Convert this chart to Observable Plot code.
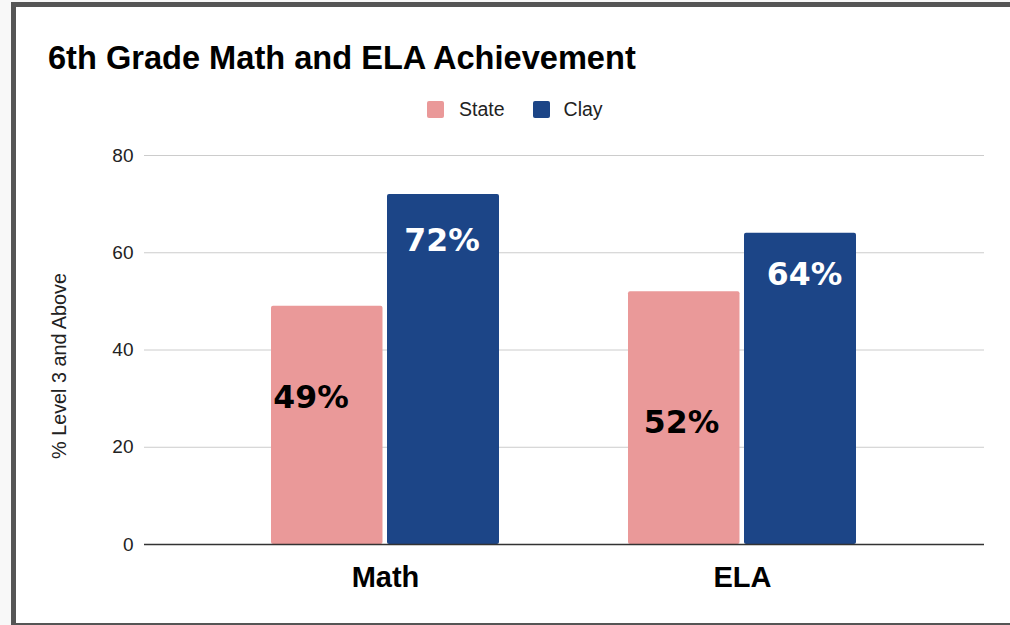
<!DOCTYPE html>
<html>
<head>
<meta charset="utf-8">
<script src="https://cdn.jsdelivr.net/npm/d3@7"></script>
<script src="https://cdn.jsdelivr.net/npm/@observablehq/plot@0.6"></script>
<style>
  html, body { margin: 0; padding: 0; width: 1010px; height: 625px; overflow: hidden; background: #f8f8f8; font-family: "Liberation Sans", Arial, sans-serif; }
  #frame { position: absolute; left: 11px; top: 2px; width: 999px; height: 623px; box-sizing: border-box;
    border-left: 5px solid #555; border-top: 5px solid #555; border-bottom: 2px solid #555; background: #fff; }
  #title { position: absolute; left: 48px; top: 42px; font-size: 32.6px; line-height: 32px; font-weight: bold; color: #000; white-space: nowrap; }
  #legend { position: absolute; left: 427px; top: 100px; display: flex; align-items: center; font-size: 19.5px; color: #222; height: 19px; }
  .sw { width: 17px; height: 17px; border-radius: 2px; display: inline-block; }
  #chart { position: absolute; left: 0; top: 130px; }
  #chart svg [aria-label^="x-axis"] text { font-size: 29px; font-weight: bold; fill: #000; }
</style>
</head>
<body>
<div id="frame"></div>
<div id="title"></div>
<div id="legend"></div>
<div id="chart"></div>
<script>
// ---- data ----
const titleText = "6th Grade Math and ELA Achievement";
const yTitle = "% Level 3 and Above";
const subjects = ["Math", "ELA"];
const series = ["State", "Clay"];
const stateValues = [49, 52];
const clayValues = [72, 64];
const yTicks = [0, 20, 40, 60, 80];
const seriesColors = ["#ea9999", "#1c4587"];
const labelColors = ["#000000", "#ffffff"];

// ---- build table ----
const rows = subjects.flatMap((s, i) => [
  {subject: s, series: "State", value: stateValues[i]},
  {subject: s, series: "Clay", value: clayValues[i]}
]);

document.getElementById("title").textContent = titleText;
const legend = document.getElementById("legend");
series.forEach((s, i) => {
  const sw = document.createElement("span");
  sw.className = "sw";
  sw.style.background = seriesColors[i];
  sw.style.marginRight = i === 0 ? "15px" : "14px";
  const t = document.createElement("span");
  t.textContent = s;
  if (i === 0) t.style.marginRight = "28px";
  legend.appendChild(sw);
  legend.appendChild(t);
});

// label placement tweaks (style, not data): [dx from band centre, dy from bar top]
const nudge = {
  "Math|State": [-74.5, 92],
  "Math|Clay": [56.5, 47],
  "ELA|State": [-61, 131],
  "ELA|Clay": [62, 42]
};

const labelMarks = rows.map(d => Plot.text([d], {
  x: "subject",
  y: "value",
  text: r => `${r.value}%`,
  dx: nudge[`${d.subject}|${d.series}`][0],
  dy: nudge[`${d.subject}|${d.series}`][1],
  fill: labelColors[series.indexOf(d.series)],
  fontSize: 31.5,
  fontWeight: "bold",
  fontFamily: "DejaVu Sans",
  textAnchor: "middle",
  lineAnchor: "middle"
}));

const chart = Plot.plot({
  width: 1010,
  height: 480,
  marginLeft: 144,
  marginRight: 26,
  marginTop: 25,
  marginBottom: 66,
  style: {fontFamily: "Liberation Sans, Arial, sans-serif", fontSize: "19px", color: "#222", background: "transparent", overflow: "visible"},
  x: {domain: subjects, paddingInner: 0.36, paddingOuter: 0.355, tickSize: 0, tickPadding: 22, label: null},
  y: {domain: [0, 80], ticks: yTicks, tickSize: 0, tickPadding: 11, label: null},
  color: {domain: series, range: seriesColors},
  marks: [
    Plot.ruleY(yTicks.filter(t => t > 0), {stroke: "#cccccc", strokeWidth: 1}),
    Plot.barY(rows.filter(d => d.series === "State"), {x: "subject", y: "value", fill: "series", insetRight: 116.5, rx: 2}),
    Plot.barY(rows.filter(d => d.series === "Clay"), {x: "subject", y: "value", fill: "series", insetLeft: 116, rx: 2}),
    Plot.ruleY([0], {stroke: "#333", strokeWidth: 1.6}),
    ...labelMarks,
    Plot.text([yTitle], {frameAnchor: "left", rotate: -90, dx: -84.5, dy: 16, fontSize: 19.8, fill: "#222", textAnchor: "middle", lineAnchor: "middle"})
  ]
});
document.getElementById("chart").appendChild(chart);
</script>
</body>
</html>
